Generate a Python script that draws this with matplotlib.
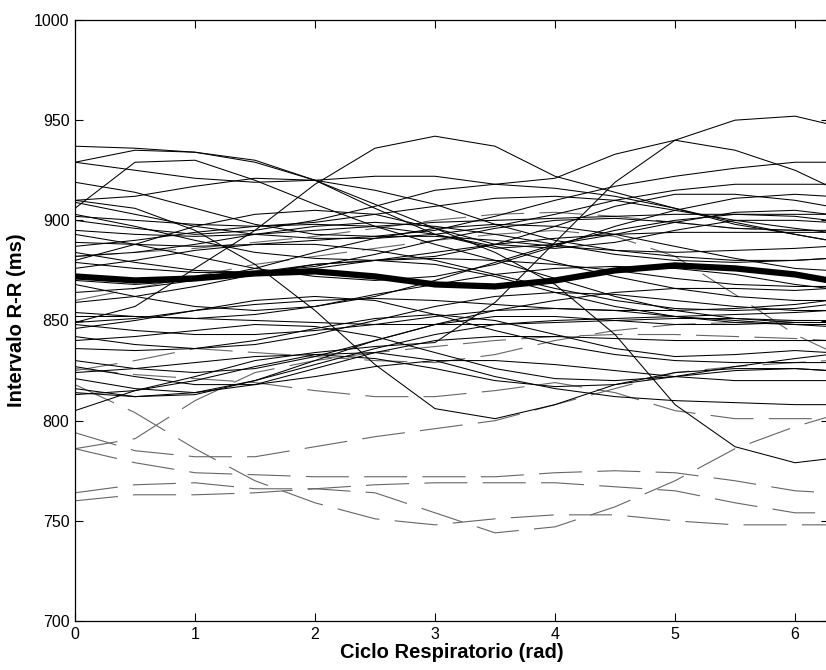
import numpy as np
import matplotlib
matplotlib.use("Agg")
import matplotlib.pyplot as plt

plt.rcParams['font.family'] = ['Liberation Sans', 'DejaVu Sans']
plt.rcParams['lines.scale_dashes'] = False

# phase of the respiratory cycle (rad) where each curve was sampled
phase = [0.0, 0.5, 1.0, 1.5, 2.0, 2.5, 3.0, 3.5, 4.0, 4.5, 5.0, 5.5, 6.0, 2 * np.pi]

# R-R interval (ms) per subject, solid curves
rr_solid = [
    [937, 936, 934, 930, 920, 906, 893, 886, 888, 893, 899, 904, 905, 903],
    [929, 935, 934, 929, 920, 908, 896, 888, 886, 889, 895, 900, 900, 899],
    [906, 929, 930, 920, 908, 897, 888, 880, 871, 862, 855, 851, 849, 849],
    [929, 925, 921, 919, 920, 922, 922, 918, 921, 933, 940, 935, 925, 917],
    [849, 857, 876, 895, 918, 936, 942, 937, 922, 914, 906, 898, 893, 890],
    [805, 815, 822, 830, 834, 837, 839, 859, 889, 919, 940, 950, 952, 948],
    [880, 888, 897, 903, 905, 903, 896, 884, 868, 843, 808, 787, 779, 781],
    [910, 906, 895, 878, 855, 828, 806, 801, 808, 818, 824, 826, 826, 825],
    [919, 914, 906, 898, 893, 892, 895, 902, 910, 917, 922, 926, 929, 929],
    [910, 912, 917, 921, 920, 915, 908, 898, 890, 885, 882, 880, 880, 881],
    [909, 903, 897, 893, 891, 891, 893, 897, 903, 910, 915, 918, 918, 918],
    [903, 897, 890, 884, 881, 880, 882, 888, 897, 907, 913, 913, 910, 907],
    [902, 900, 898, 897, 899, 903, 907, 911, 912, 910, 905, 900, 896, 894],
    [900, 896, 893, 895, 900, 907, 915, 918, 916, 912, 906, 899, 893, 890],
    [895, 893, 892, 893, 895, 897, 899, 900, 901, 902, 903, 903, 903, 903],
    [893, 888, 882, 876, 872, 870, 872, 878, 887, 897, 905, 911, 913, 912],
    [889, 888, 887, 888, 890, 892, 892, 890, 887, 885, 884, 885, 886, 887],
    [887, 890, 894, 897, 898, 897, 893, 887, 879, 872, 866, 862, 860, 860],
    [884, 879, 875, 874, 877, 883, 890, 896, 900, 901, 899, 896, 895, 895],
    [882, 884, 888, 893, 897, 899, 897, 893, 888, 883, 880, 879, 880, 881],
    [879, 876, 874, 874, 876, 880, 884, 888, 891, 893, 894, 894, 894, 894],
    [876, 880, 885, 888, 888, 885, 880, 873, 866, 860, 856, 855, 856, 858],
    [870, 868, 870, 876, 884, 891, 896, 898, 897, 893, 887, 881, 876, 875],
    [868, 862, 857, 855, 857, 862, 870, 879, 888, 895, 900, 903, 902, 900],
    [864, 866, 870, 874, 878, 880, 881, 880, 878, 875, 871, 868, 867, 867],
    [859, 862, 867, 873, 878, 880, 878, 872, 864, 857, 852, 849, 848, 848],
    [854, 852, 851, 853, 857, 863, 868, 873, 876, 877, 876, 873, 868, 866],
    [852, 852, 851, 850, 849, 848, 848, 848, 849, 850, 851, 851, 850, 850],
    [849, 851, 855, 858, 860, 861, 860, 858, 856, 855, 855, 856, 858, 860],
    [848, 845, 843, 843, 845, 848, 852, 855, 856, 855, 852, 850, 848, 847],
    [846, 850, 855, 860, 862, 860, 853, 845, 838, 833, 830, 829, 829, 829],
    [842, 838, 836, 838, 843, 850, 857, 862, 864, 863, 860, 857, 855, 855],
    [840, 842, 845, 848, 847, 842, 834, 826, 821, 820, 822, 825, 826, 825],
    [836, 835, 836, 840, 846, 851, 853, 850, 843, 836, 832, 833, 835, 834],
    [830, 826, 824, 826, 832, 840, 848, 855, 860, 864, 866, 866, 865, 866],
    [827, 822, 818, 818, 822, 827, 830, 830, 828, 825, 822, 820, 820, 820],
    [824, 826, 829, 832, 833, 831, 826, 820, 817, 818, 822, 827, 831, 833],
    [821, 816, 814, 818, 826, 834, 840, 842, 842, 841, 840, 840, 840, 840],
    [816, 812, 813, 820, 830, 840, 848, 852, 852, 850, 848, 848, 849, 849],
    [814, 812, 814, 820, 828, 836, 843, 848, 850, 851, 852, 853, 854, 855],
    [813, 815, 820, 827, 833, 834, 830, 822, 816, 812, 810, 809, 808, 808],
]

# R-R interval (ms), dashed curves
rr_dashed = [
    [794, 785, 782, 782, 787, 792, 796, 800, 808, 816, 824, 827, 829, 830],
    [786, 779, 774, 773, 772, 772, 772, 772, 774, 775, 774, 770, 765, 764],
    [764, 768, 769, 766, 766, 764, 754, 744, 747, 757, 770, 786, 797, 802],
    [760, 763, 763, 764, 766, 768, 769, 769, 769, 767, 765, 759, 754, 754],
    [818, 804, 786, 770, 759, 751, 748, 751, 753, 753, 750, 748, 748, 748],
    [786, 791, 810, 824, 830, 834, 837, 840, 842, 843, 843, 842, 841, 840],
    [826, 823, 821, 819, 815, 812, 812, 815, 819, 814, 805, 801, 801, 801],
    [882, 884, 886, 889, 892, 896, 900, 903, 904, 902, 899, 896, 895, 895],
    [860, 866, 872, 878, 882, 886, 890, 893, 895, 892, 882, 863, 843, 835],
    [825, 830, 836, 834, 832, 830, 829, 833, 840, 845, 848, 849, 850, 850],
]

# group mean R-R interval (ms)
rr_mean = [872, 870, 871, 873.5, 874.5, 872, 868, 867, 870, 875, 877.5, 876, 873, 870]

fig = plt.figure(figsize=(8.26, 6.70), dpi=100)
ax = fig.add_axes([75 / 826, 49 / 670, 754 / 826, 601 / 670])

for rr in rr_dashed:
    ax.plot(phase, rr, color='#666666', lw=0.8, dashes=(31, 11))
for rr in rr_solid:
    ax.plot(phase, rr, color='black', lw=0.75)
ax.plot(phase, rr_mean, color='black', lw=4.5, solid_capstyle='butt')

ax.set_xlim(0, 2 * np.pi)
ax.set_ylim(700, 1000)
ax.set_xticks(range(7))
ax.set_yticks(range(700, 1001, 50))
ax.tick_params(direction='in', length=6, width=0.8, top=True, right=True,
               labelsize=11.5, pad=4)
for s in ax.spines.values():
    s.set_linewidth(0.9)

ax.set_xlabel('Ciclo Respiratorio (rad)', fontsize=14.5, fontweight='bold', labelpad=1)
ax.set_ylabel('Intervalo R-R (ms)', fontsize=14.5, fontweight='bold', labelpad=6)

fig.savefig('out.png', dpi=100)
